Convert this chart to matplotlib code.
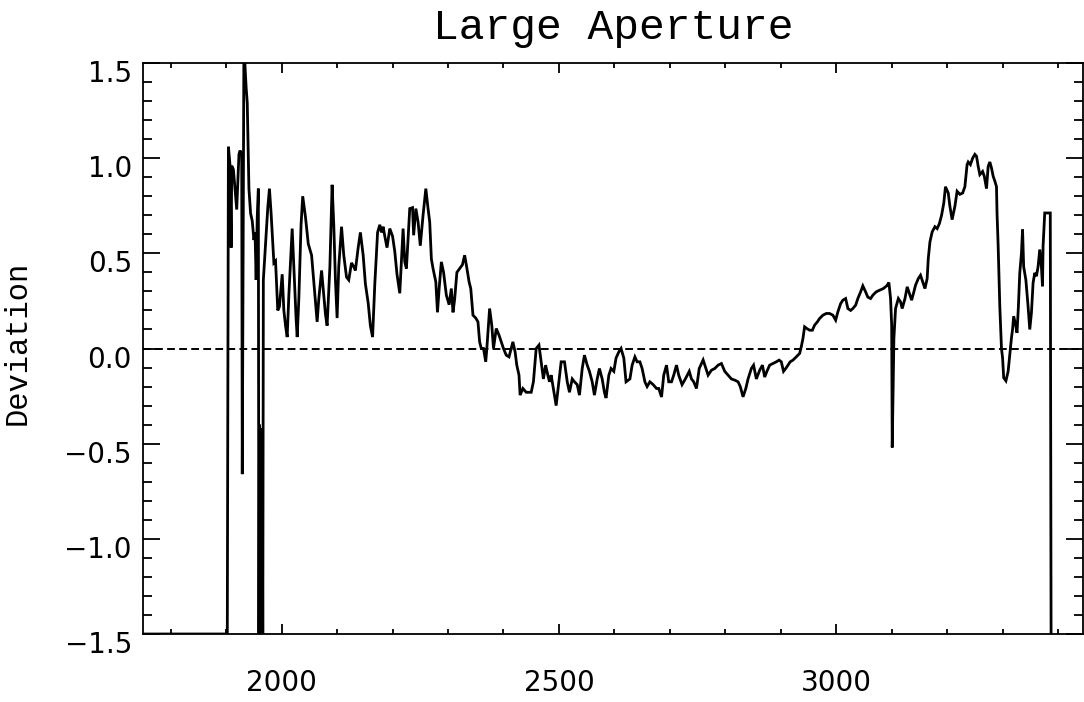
import matplotlib
matplotlib.use("Agg")
import matplotlib.pyplot as plt
from matplotlib.ticker import MultipleLocator
from matplotlib.transforms import ScaledTranslation

wavelength = [1750, 1902, 1904, 1907, 1909, 1910, 1913, 1917, 1919, 1923, 1925, 1928, 1929, 1931, 1932, 1934, 1936, 1938, 1941, 1944, 1947, 1950, 1952, 1954, 1956, 1958, 1959, 1960, 1961.5, 1963, 1964, 1965, 1966, 1967, 1975, 1978, 1981, 1986, 1989, 1993, 1996, 2001, 2004, 2007, 2010, 2013, 2019, 2022, 2026, 2028, 2031, 2035, 2038, 2043, 2048, 2054, 2060, 2064, 2067, 2072, 2076, 2079, 2082, 2087, 2091, 2094, 2097, 2100, 2103, 2108, 2112, 2117, 2121, 2126, 2130, 2133, 2138, 2142, 2147, 2151, 2156, 2160, 2164, 2168, 2173, 2177, 2180, 2183, 2186, 2190, 2195, 2200, 2204, 2208, 2213,
              2219, 2222, 2225, 2231, 2236, 2238, 2242, 2246, 2250, 2255, 2260, 2264, 2267, 2270, 2273, 2278, 2281, 2284, 2288, 2292, 2297, 2302, 2306, 2309, 2312, 2316, 2321, 2326, 2330, 2333, 2338, 2341, 2345, 2350, 2354, 2357, 2360, 2364, 2368, 2370, 2375, 2379, 2382, 2387, 2392, 2396, 2400, 2405, 2410, 2414, 2417, 2421, 2424, 2428, 2430, 2435, 2441, 2450, 2454, 2459, 2464, 2468, 2472, 2476, 2480, 2483, 2486, 2490, 2495, 2500, 2504, 2510, 2515, 2519, 2524, 2528, 2533, 2537, 2542, 2546, 2551, 2555, 2560, 2564, 2569, 2573, 2578, 2582, 2585, 2590, 2594, 2599, 2603, 2608, 2612, 2617, 2621, 2628, 2632, 2637, 2641, 2646, 2650, 2655, 2659, 2664, 2670, 2676, 2680, 2685, 2689, 2694, 2698, 2703, 2707, 2712, 2716, 2722, 2728, 2735, 2739, 2743, 2748, 2753,
              2760, 2765, 2769, 2775, 2781, 2787, 2793, 2799, 2805, 2811, 2817, 2823, 2827, 2832, 2837, 2841, 2847, 2851, 2856, 2862, 2867, 2871, 2875, 2880, 2886, 2892, 2897, 2901, 2905, 2909, 2913, 2917, 2922, 2928, 2934, 2937, 2940, 2943, 2947, 2952, 2957, 2961, 2966, 2970, 2976, 2982, 2988, 2994, 2999, 3003, 3008, 3012, 3017, 3021, 3026, 3030, 3035, 3039, 3044, 3048, 3053, 3057, 3062, 3066, 3072, 3078, 3085, 3091, 3095, 3098, 3100, 3101, 3104, 3107, 3112, 3116, 3119, 3124, 3128, 3131, 3136, 3140, 3143, 3148, 3152, 3155, 3160, 3164, 3166, 3169, 3173, 3178, 3182, 3186, 3190, 3194,
              3197, 3202, 3205, 3209, 3214, 3218, 3223, 3228, 3232, 3236, 3238, 3242, 3246, 3250, 3253, 3256, 3259, 3264, 3267, 3271, 3274, 3277, 3280, 3283, 3286, 3289, 3290, 3292, 3295, 3298, 3300, 3302, 3306, 3310, 3313, 3316, 3318, 3320, 3324, 3326, 3328.5, 3331, 3334, 3336, 3338, 3342, 3346, 3349, 3352, 3355, 3358, 3361, 3364, 3367, 3370, 3372, 3373, 3376, 3382, 3386, 3387.5]

deviation = [-1.5, -1.5, 1.06, 0.96, 0.53, 0.96, 0.94, 0.80, 0.73, 1.02, 1.04, 1.02, -0.66, 0.94, 1.62, 1.48, 1.37, 1.29, 0.84, 0.71, 0.67, 0.57, 0.61, 0.36, 0.69, 0.84, -1.6, -0.40, -1.6, -0.42, -1.6, -0.45, -1.6, 0.36, 0.74, 0.84, 0.71, 0.45, 0.46, 0.20, 0.22, 0.39, 0.20, 0.12, 0.06, 0.28, 0.63, 0.43, 0.16, 0.06, 0.26, 0.65, 0.80, 0.69, 0.55, 0.49, 0.28, 0.14, 0.26, 0.41, 0.28, 0.18, 0.12, 0.43, 0.86, 0.65, 0.36, 0.16, 0.43, 0.64, 0.49, 0.375, 0.36, 0.45, 0.43, 0.41, 0.53, 0.61, 0.49, 0.34, 0.24, 0.12, 0.06, 0.34, 0.61, 0.65, 0.61, 0.64, 0.59, 0.53, 0.63, 0.59, 0.51, 0.39, 0.29,
             0.63, 0.455, 0.42, 0.735, 0.74, 0.595, 0.735, 0.665, 0.54, 0.70, 0.84, 0.735, 0.665, 0.47, 0.42, 0.35, 0.19, 0.315, 0.455, 0.40, 0.28, 0.23, 0.315, 0.19, 0.26, 0.40, 0.42, 0.44, 0.49, 0.44, 0.35, 0.315, 0.175, 0.16, 0.14, 0.035, 0.0, 0.0, -0.07, 0.0, 0.21, 0.12, 0.0, 0.105, 0.07, 0.035, 0.0, -0.035, -0.044, 0.0, 0.035, -0.018, -0.0875, -0.14, -0.245, -0.21, -0.23, -0.23, -0.175, 0.0, 0.018, -0.07, -0.16, -0.0875, -0.14, -0.175, -0.14, -0.21, -0.30, -0.175, -0.07, -0.07, -0.175, -0.23, -0.16, -0.175, -0.19, -0.245, -0.105, -0.035, -0.0875, -0.12, -0.175, -0.245, -0.16, -0.105, -0.16, -0.23, -0.26, -0.14, -0.105, -0.12, -0.05, -0.018, 0.0, -0.05, -0.175, -0.16, -0.0875, -0.044, -0.07, -0.07, -0.105, -0.175, -0.20, -0.175, -0.19, -0.21, -0.21, -0.255, -0.14, -0.0875, -0.175, -0.175, -0.14, -0.0875, -0.14, -0.19, -0.16, -0.12, -0.16, -0.175, -0.21, -0.105,
             -0.06, -0.105, -0.14, -0.114, -0.105, -0.0875, -0.079, -0.12, -0.14, -0.16, -0.166, -0.175, -0.20, -0.254, -0.21, -0.16, -0.105, -0.0875, -0.16, -0.114, -0.0875, -0.15, -0.12, -0.0875, -0.079, -0.07, -0.061, -0.07, -0.12, -0.105, -0.0875, -0.07, -0.061, -0.044, -0.026, 0.009, 0.0525, 0.114, 0.105, 0.096, 0.096, 0.1225, 0.14, 0.1575, 0.175, 0.184, 0.184, 0.175, 0.149, 0.1925, 0.236, 0.254, 0.2625, 0.21, 0.20, 0.21, 0.2275, 0.2625, 0.2975, 0.329, 0.2975, 0.27, 0.2625, 0.28, 0.2975, 0.306, 0.315, 0.329, 0.3465, 0.2625, 0.1225, -0.52, 0.0525, 0.21, 0.2625, 0.245, 0.21, 0.2625, 0.324, 0.2975, 0.254, 0.2975, 0.3325, 0.3675, 0.385, 0.359, 0.315, 0.3675, 0.4725, 0.56, 0.6125, 0.64, 0.63, 0.656, 0.70, 0.765,
             0.85, 0.817, 0.747, 0.677, 0.747, 0.826, 0.81, 0.817, 0.85, 0.966, 0.98, 0.966, 1.00, 1.02, 1.01, 0.957, 0.9135, 0.93, 0.905, 0.84, 0.957, 0.98, 0.9485, 0.905, 0.88, 0.85, 0.71, 0.54, 0.22, 0.0, -0.05, -0.154, -0.17, -0.12, -0.03, 0.056, 0.10, 0.17, 0.117, 0.082, 0.22, 0.397, 0.50, 0.625, 0.43, 0.36, 0.22, 0.10, 0.187, 0.345, 0.397, 0.38, 0.43, 0.52, 0.43, 0.327, 0.537, 0.712, 0.712, 0.712, -1.6]

title_text = "Large Aperture"
ylabel_text = "Deviation"
xticks = [2000, 2500, 3000]
yticks = [-1.5, -1.0, -0.5, 0.0, 0.5, 1.0, 1.5]

fig = plt.figure(figsize=(10.84, 7.02), dpi=100)
ax = fig.add_axes([143 / 1084, 1 - 634 / 702, (1083 - 143) / 1084, (634 - 63) / 702])

ax.plot(wavelength, deviation, color="black", lw=2.0, solid_joinstyle="miter")
ax.axhline(0.0, color="black", lw=1.4, linestyle=(0, (4, 2.2)))

ax.set_xlim(1750, 3445)
ax.set_ylim(-1.5, 1.5)
ax.set_xticks(xticks)
ax.set_yticks(yticks)
ax.set_yticklabels([f"{v:.1f}".replace("-", "\u2212") for v in yticks])
ax.xaxis.set_minor_locator(MultipleLocator(100))
ax.yaxis.set_minor_locator(MultipleLocator(0.1))

for s in ax.spines.values():
    s.set_linewidth(1.3)

ax.tick_params(axis="both", which="both", direction="in", top=True, right=True,
               width=1.3, labelsize=20, colors="black")
ax.tick_params(axis="x", which="major", length=7.5, pad=25)
ax.tick_params(axis="x", which="minor", length=3.8)
ax.tick_params(axis="y", which="major", length=12, pad=8)
ax.tick_params(axis="y", which="minor", length=6.5)

# the scanned original prints its y labels slightly below their ticks
shift = ScaledTranslation(0, -8 / 100, fig.dpi_scale_trans)
for lab in ax.get_yticklabels():
    lab.set_transform(lab.get_transform() + shift)

ax.set_title(title_text, fontfamily="Liberation Mono", fontsize=31, pad=17)
ax.set_ylabel(ylabel_text, fontfamily="Liberation Mono", fontsize=22)
ax.yaxis.set_label_coords(-0.117, 0.51)

fig.savefig("out.png", dpi=100)
